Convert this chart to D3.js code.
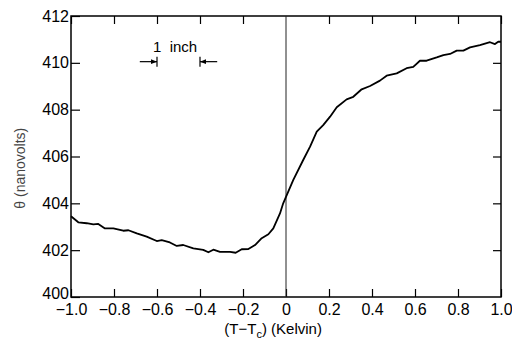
<!DOCTYPE html>
<html>
<head>
<meta charset="utf-8">
<script src="https://cdn.jsdelivr.net/npm/d3@7"></script>
<style>
  body { margin: 0; background: #fff; }
  text { font-family: "Liberation Sans", Arial, sans-serif; }
</style>
</head>
<body>
<svg id="chart"></svg>
<script>
// theta vs (T - Tc)
const tDiff = [-1.0, -0.966, -0.927, -0.896, -0.873, -0.842, -0.803, -0.757, -0.733, -0.694,
  -0.648, -0.601, -0.578, -0.54, -0.508, -0.478, -0.431, -0.385, -0.361, -0.338,
  -0.307, -0.26, -0.234, -0.206, -0.175, -0.144, -0.113, -0.082, -0.059, -0.028,
  -0.013, 0.034, 0.08, 0.112, 0.143, 0.173, 0.205, 0.236, 0.282, 0.313,
  0.352, 0.391, 0.437, 0.468, 0.515, 0.561, 0.592, 0.623, 0.654, 0.701,
  0.732, 0.763, 0.794, 0.825, 0.856, 0.902, 0.949, 0.972, 0.987, 1.0];
const theta = [403.45, 403.19, 403.15, 403.1, 403.12, 402.93, 402.93, 402.83, 402.85, 402.72,
  402.58, 402.39, 402.43, 402.33, 402.18, 402.22, 402.08, 402.01, 401.91, 402.02,
  401.93, 401.93, 401.89, 402.04, 402.05, 402.22, 402.51, 402.68, 402.93, 403.57,
  404.0, 405.0, 405.85, 406.42, 407.06, 407.34, 407.7, 408.1, 408.44, 408.55,
  408.87, 409.01, 409.24, 409.45, 409.55, 409.77, 409.83, 410.09, 410.09, 410.23,
  410.33, 410.38, 410.52, 410.52, 410.66, 410.76, 410.88, 410.8, 410.9, 410.9];
const xTicks = [-1.0, -0.8, -0.6, -0.4, -0.2, 0, 0.2, 0.4, 0.6, 0.8, 1.0];
const yTicks = [400, 402, 404, 406, 408, 410, 412];
const inchMarks = [-0.6, -0.4];

const W = 512, H = 343;
const margin = { top: 16, right: 11, bottom: 46, left: 71 },
    width = W - margin.left - margin.right,
    height = H - margin.top - margin.bottom;

const root = d3.select("#chart").attr("width", W).attr("height", H);
const svg = root.append("g")
    .attr("transform", `translate(${margin.left},${margin.top})`);

const x = d3.scaleLinear().domain([-1, 1]).range([0, width]);
const y = d3.scaleLinear().domain([400, 412]).range([height, 0]);

const fmtX = d => d === 0 ? "0" : d3.format(".1f")(d);

// bottom axis with inward ticks
const xAxis = svg.append("g")
    .attr("transform", `translate(0,${height})`)
    .call(d3.axisBottom(x).tickValues(xTicks).tickSize(-8).tickPadding(7).tickFormat(fmtX));
xAxis.select(".domain").remove();
xAxis.selectAll("text").style("font-size", "16px").attr("fill", "#000");
xAxis.selectAll("line").attr("stroke-width", 1.2);

// top ticks
const xTop = svg.append("g")
    .call(d3.axisTop(x).tickValues(xTicks.filter(d => d !== 0)).tickSize(-8).tickFormat(""));
xTop.select(".domain").remove();
xTop.selectAll("line").attr("stroke-width", 1.2);

// left axis
const yAxis = svg.append("g")
    .call(d3.axisLeft(y).tickValues(yTicks).tickSize(-9).tickPadding(2));
yAxis.select(".domain").remove();
yAxis.selectAll("text").style("font-size", "16px").attr("fill", "#000");
yAxis.selectAll("line").attr("stroke-width", 1.2);
yAxis.selectAll(".tick").filter(d => d === 400).select("text").attr("dy", "0.1em");

// right ticks
const yRight = svg.append("g")
    .attr("transform", `translate(${width},0)`)
    .call(d3.axisRight(y).tickValues(yTicks.slice(1, -1)).tickSize(-8).tickFormat(""));
yRight.select(".domain").remove();
yRight.selectAll("line").attr("stroke-width", 1.2);

// frame
svg.append("rect")
    .attr("width", width)
    .attr("height", height)
    .attr("fill", "none")
    .attr("stroke", "#000")
    .attr("stroke-width", 1.5);

// T = Tc line
svg.append("line")
    .attr("x1", x(0)).attr("x2", x(0))
    .attr("y1", 0).attr("y2", height)
    .attr("stroke", "#222")
    .attr("stroke-width", 1);

// trace
const pts = tDiff.map((t, i) => ({ t: t, v: theta[i] }));
svg.append("path")
    .datum(pts)
    .attr("fill", "none")
    .attr("stroke", "#000")
    .attr("stroke-width", 1.8)
    .attr("stroke-linejoin", "round")
    .attr("d", d3.line().x(d => x(d.t)).y(d => y(d.v)));

// "1 inch" scale marker
const yIn = y(410.05);
const arrowLen = x(-0.52) - x(-0.6);
svg.append("defs").append("marker")
    .attr("id", "arr")
    .attr("viewBox", "0 0 10 10")
    .attr("refX", 10).attr("refY", 5)
    .attr("markerWidth", 5).attr("markerHeight", 5)
    .attr("orient", "auto")
    .append("path").attr("d", "M0,1L10,5L0,9Z").attr("fill", "#000");

inchMarks.forEach((m, i) => {
    svg.append("line")
        .attr("x1", x(m)).attr("x2", x(m))
        .attr("y1", yIn - 5).attr("y2", yIn + 5)
        .attr("stroke", "#000").attr("stroke-width", 1.2);
    const dir = i === 0 ? -1 : 1;
    svg.append("line")
        .attr("x1", x(m) + dir * arrowLen).attr("x2", x(m))
        .attr("y1", yIn).attr("y2", yIn)
        .attr("stroke", "#000").attr("stroke-width", 1.2)
        .attr("marker-end", "url(#arr)");
});
svg.append("text")
    .attr("x", x(inchMarks[0]) - 4)
    .attr("y", yIn - 10)
    .style("font-size", "15px")
    .text("1  inch")
    .attr("xml:space", "preserve");

// axis titles
const xt = svg.append("text")
    .attr("x", x(-0.06))
    .attr("y", height + 37)
    .attr("text-anchor", "middle")
    .style("font-size", "15px");
xt.append("tspan").text("(T\u2212T");
xt.append("tspan").attr("font-size", "11px").attr("dy", 4).text("c");
xt.append("tspan").attr("dy", -4).text(") (Kelvin)");

root.append("text")
    .attr("transform", `translate(25,${margin.top + y(405.5)}) rotate(-90)`)
    .attr("text-anchor", "middle")
    .attr("fill", "#444")
    .style("font-size", "14px")
    .text("\u03B8 (nanovolts)");
</script>
</body>
</html>
